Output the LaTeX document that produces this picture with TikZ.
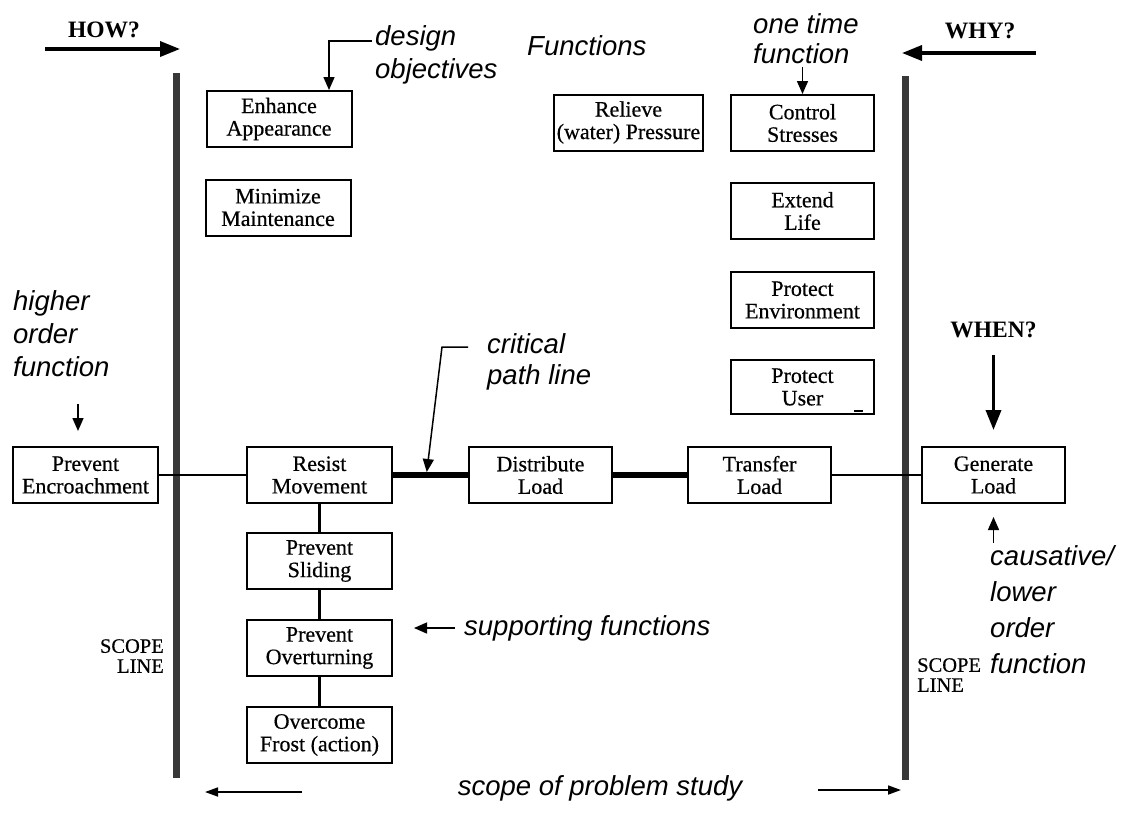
\documentclass[tikz,border=0pt]{standalone}
\usepackage{fontspec}
\setmainfont{Liberation Serif}
\newfontfamily\boxfont[FakeBold=0.5]{Liberation Serif}
\newfontfamily\labelfont{Liberation Sans}
\usetikzlibrary{arrows.meta,calc}
\begin{document}
\begin{tikzpicture}[x=1pt,y=-1pt,
  fbox/.style={draw, line width=2pt, minimum width=145pt, minimum height=56pt,
    inner sep=0pt, align=center, font=\boxfont\fontsize{22}{22.5}\selectfont},
  note/.style={inner sep=0pt, align=left, font=\labelfont\itshape\fontsize{27.5}{33}\selectfont},
  ask/.style={inner sep=0pt, font=\bfseries\fontsize{23.5}{26}\selectfont},
  scopeline/.style={line width=7pt, draw=black!78},
  scopetext/.style={inner sep=0pt, font=\boxfont\fontsize{20.5}{20}\selectfont},
  bigarrow/.style={line width=3.5pt, -{Triangle[length=20pt,width=15pt]}},
  ptr/.style={line width=1.5pt, -{Triangle[length=13pt,width=11pt]}},
  thinptr/.style={line width=1.7pt, -{Triangle[length=13pt,width=9pt]}},
  link/.style={line width=1.8pt},
  chain/.style={line width=2.2pt},
  critical/.style={line width=6pt}
]
\useasboundingbox (0,0) rectangle (1129,823);

% scope lines
\coordinate (lt) at (176,73);  \coordinate (lb) at (176,778);
\coordinate (rt) at (905,76);  \coordinate (rb) at (905,780);
\draw[scopeline] (lt) -- (lb);
\draw[scopeline] (rt) -- (rb);

% function boxes
\node[fbox] (enh) at (279,119) {Enhance\\Appearance};
\node[fbox] (mnt) at (278,207.5) {Minimize\\Maintenance};
\node[fbox, minimum width=149pt] (rel) at (628.5,122.5) {Relieve\\(water) Pressure};
\node[fbox, minimum width=143pt] (con) at (802.5,123) {Control\\Stresses};
\node[fbox, minimum width=143pt] (ext) at (802.5,211) {Extend\\Life};
\node[fbox, minimum width=143pt] (env) at (802.5,300) {Protect\\Environment};
\node[fbox, minimum width=143pt, minimum height=54pt] (usr) at (802.5,387) {Protect\\User};
\draw[line width=2pt] ([xshift=-21pt,yshift=4pt]usr.south east) -- ++(9,0);

\node[fbox] (enc) at (85.5,475) {Prevent\\Encroachment};
\node[fbox] (res) at (319.5,475) {Resist\\Movement};
\node[fbox, minimum width=143pt] (dis) at (540.5,475) {Distribute\\Load};
\node[fbox, minimum width=143pt] (tra) at (759.5,475) {Transfer\\Load};
\node[fbox, minimum width=143pt] (gen) at (993.5,475) {Generate\\Load};

\node[fbox] (sli) at (319.5,561) {Prevent\\Sliding};
\node[fbox] (ovt) at (319.5,648) {Prevent\\Overturning};
\node[fbox] (fro) at (319.5,735) {Overcome\\Frost (action)};

% critical path and links
\draw[link] (enc.east) -- (res.west);
\draw[critical] (res.east) -- (dis.west);
\draw[critical] (dis.east) -- (tra.west);
\draw[link] (tra.east) -- (gen.west);
\draw[chain] (res.south) -- (sli.north);
\draw[chain] (sli.south) -- (ovt.north);
\draw[chain] (ovt.south) -- (fro.north);

% direction questions
\node[ask] (how) at (104,30) {HOW?};
\coordinate (hows) at (45,49); \coordinate (howe) at (180,49);
\draw[bigarrow] (hows) -- (howe);

\node[ask] (why) at (980,31) {WHY?};
\coordinate (whys) at (1036,53); \coordinate (whye) at (902,53);
\draw[bigarrow] (whys) -- (whye);

\node[ask] (when) at (993.5,330) {WHEN?};
\draw[bigarrow] ([yshift=91pt]gen.north) -- ([yshift=16pt]gen.north);

% annotations
\node[note, anchor=north west] (dsg) at (375,25) {design\\objectives};
\coordinate (dsgbend) at (329,41);
\draw[ptr] ([xshift=-3pt,yshift=-16pt]dsg.north west) -- (dsgbend) -- (dsgbend |- enh.north);

\node[note, anchor=base west] (fun) at (527,55) {Functions};

\node[note, anchor=north west, font=\labelfont\itshape\fontsize{27.5}{30}\selectfont] (one) at (753,13) {one time\\function};
\draw[ptr] ([yshift=27pt]con.north) -- (con.north);

\node[note, anchor=north west] (hof) at (13,290) {higher\\order\\function};
\draw[ptr] ([xshift=-7.5pt,yshift=42pt]enc.north) -- ([xshift=-7.5pt,yshift=15pt]enc.north);

\node[note, anchor=north west, font=\labelfont\itshape\fontsize{27.5}{31}\selectfont] (crit) at (487,333) {critical\\path line};
\coordinate (critbend) at (442,347);
\coordinate (crittip) at ($(res.east)!0.45!(dis.west)+(0,-3)$);
\draw[ptr] ([xshift=-19pt,yshift=-14pt]crit.north west) -- (critbend) -- (crittip);

\node[note, anchor=base west] (sup) at (464,635) {supporting functions};
\draw[ptr] ([xshift=-9pt,yshift=7pt]sup.base west) -- ([xshift=-50pt,yshift=7pt]sup.base west);

\node[note, anchor=north west, font=\labelfont\itshape\fontsize{27.5}{36}\selectfont] (cau) at (990,545) {causative/\\lower\\order\\function};
\draw[ptr] ([yshift=-39pt]gen.south) -- ([yshift=-13pt]gen.south);

\node[scopetext, anchor=north east, align=right] (sl) at (164,639) {SCOPE\\LINE};
\node[scopetext, anchor=north west, align=left] (sr) at (917,658) {SCOPE\\LINE};

\node[note, anchor=base] (sps) at (600,795) {scope of problem study};
\coordinate (spl1) at (302,792); \coordinate (spl2) at (205,792);
\coordinate (spr1) at (818,790); \coordinate (spr2) at (901,790);
\draw[thinptr] (spl1) -- (spl2);
\draw[thinptr] (spr1) -- (spr2);
\end{tikzpicture}
\end{document}
